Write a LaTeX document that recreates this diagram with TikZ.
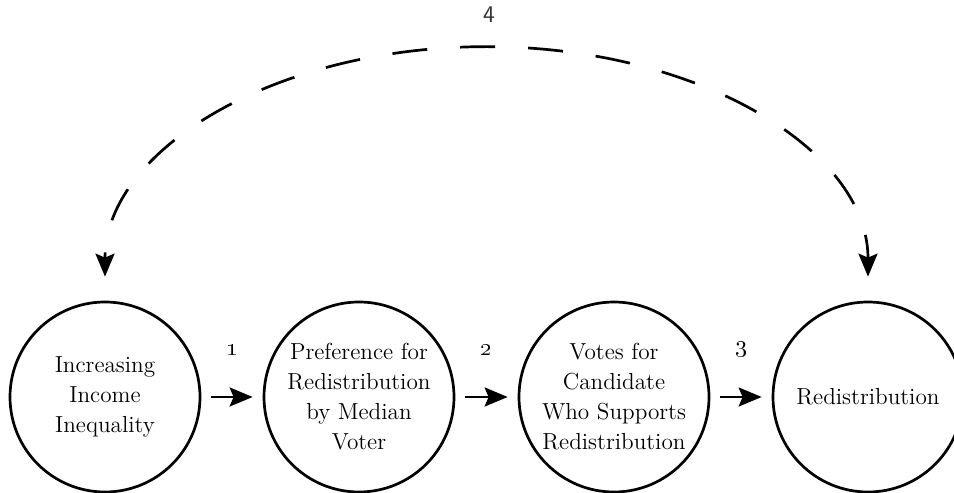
\documentclass[tikz,border=0pt]{standalone}
\usetikzlibrary{arrows.meta}

\begin{document}
\begin{tikzpicture}[x=0.5pt, y=0.5pt,
  stage/.style={draw, circle, line width=1.35pt, minimum size=95pt, inner sep=0pt,
    align=center, font=\fontsize{11.6}{15}\selectfont},
  flow/.style={-{Stealth[length=11.5pt, width=9.5pt, inset=2pt]}, line width=1.35pt,
    shorten <=5pt, shorten >=5pt},
  feedback/.style={{Stealth[length=11.5pt, width=9.5pt, inset=2pt]}-{Stealth[length=11.5pt, width=9.5pt, inset=2pt]},
    line width=1.35pt, dash pattern=on 17.5pt off 16.5pt, dash phase=14.5pt},
  steplabel/.style={font=\fontsize{11.6}{13}\selectfont}]
\useasboundingbox (0,0) rectangle (954,493);

% Stage circles
\node[stage] (ineq) at (105, 96) {Increasing\\Income\\Inequality};
\node[stage] (pref) at (359, 96) {Preference for\\Redistribution\\by Median\\Voter};
\node[stage] (votes) at (614, 96) {Votes for\\Candidate\\Who Supports\\Redistribution};
\node[stage] (redist) at (868, 96) {Redistribution};

% Arrows
\draw[flow] (ineq) -- node[steplabel, yshift=23.5pt] (lab1) {\oldstylenums{1}} (pref);
\draw[flow] (pref) -- node[steplabel, yshift=23.5pt] (lab2) {\oldstylenums{2}} (votes);
\draw[flow] (votes) -- node[steplabel, yshift=23.5pt] (lab3) {\oldstylenums{3}} (redist);

% Feedback arc
\coordinate (arcL) at ([yshift=12pt]ineq.north);
\coordinate (arcR) at ([yshift=12pt]redist.north);
\draw[feedback] (arcL) arc[start angle=180, end angle=0, x radius=381.5, y radius=230];
\node[font=\fontsize{12}{14}\sffamily\selectfont, text=black!80] (lab4) at (489, 478) {4};
\end{tikzpicture}
\end{document}
